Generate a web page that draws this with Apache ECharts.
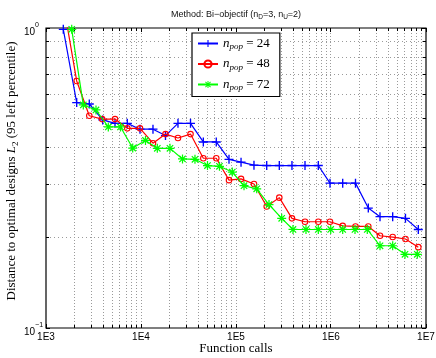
<!DOCTYPE html>
<html><head><meta charset="utf-8">
<script src="https://cdn.jsdelivr.net/npm/echarts@6/dist/echarts.min.js"></script>
<style>html,body{margin:0;padding:0;background:#fff}#c{width:436px;height:358px}</style>
</head><body><div id="c"></div>
<script>
// ---------------- data ----------------
const npopValues = [24, 48, 72];

const callsPop24 = [1521, 2104, 2856, 3953, 5326, 7174, 9760, 13370, 18100, 24500, 33200, 45300, 62000, 84400, 113000, 154600, 210500, 285700, 388300, 532600, 735000, 975800, 1328000, 1811000, 2470000, 3280000, 4460000, 6080000, 8300000];
const distPop24  = [0.99, 0.564, 0.558, 0.494, 0.481, 0.481, 0.460, 0.460, 0.438, 0.481, 0.481, 0.417, 0.417, 0.365, 0.357, 0.349, 0.348, 0.348, 0.348, 0.348, 0.348, 0.304, 0.304, 0.304, 0.251, 0.235, 0.235, 0.232, 0.213];

const callsPop48 = [1521, 2104, 2856, 3900, 5326, 7174, 9760, 13370, 18100, 24500, 33200, 45300, 62000, 84400, 113000, 154600, 210500, 285700, 388300, 532600, 735000, 975800, 1328000, 1811000, 2470000, 3280000, 4460000, 6080000, 8300000];
const distPop48  = [1.21, 0.666, 0.510, 0.497, 0.497, 0.463, 0.463, 0.413, 0.443, 0.430, 0.443, 0.368, 0.368, 0.311, 0.314, 0.302, 0.254, 0.272, 0.232, 0.226, 0.226, 0.226, 0.219, 0.218, 0.218, 0.203, 0.201, 0.198, 0.186];

const callsPop72 = [1865, 2470, 3360, 4527, 6085, 8180, 11150, 14850, 20190, 27350, 37000, 50100, 67000, 91400, 121400, 165200, 222500, 302700, 398000, 545500, 735000, 993000, 1328000, 1790000, 2410000, 3280000, 4460000, 6010000, 8100000];
const distPop72  = [0.99, 0.554, 0.533, 0.468, 0.468, 0.398, 0.422, 0.397, 0.397, 0.366, 0.365, 0.348, 0.346, 0.331, 0.298, 0.291, 0.258, 0.232, 0.213, 0.213, 0.213, 0.213, 0.213, 0.213, 0.213, 0.188, 0.188, 0.176, 0.176];

const xDecades = [1e3, 1e4, 1e5, 1e6, 1e7];
const xTickLabels = ['1E3', '1E4', '1E5', '1E6', '1E7'];
const yDecades = [0.1, 1];
const yTickExponents = ['\u22121', '0'];
const yGridValues = [0.1, 0.2, 0.3, 0.4, 0.5, 0.6, 0.7, 0.8, 0.9, 1];
const minorMultipliers = [1, 2, 3, 4, 5, 6, 7, 8, 9];

// ---------------- chart ----------------
const X_MIN = 1e3, X_MAX = 1e7, Y_MIN = 0.1, Y_MAX = 1;
const xGridValues = [];
xDecades.slice(0, -1).forEach(d => minorMultipliers.forEach(m => xGridValues.push(d * m)));
xGridValues.push(X_MAX);

const plusPath = 'path://M-1.2,-8L1.2,-8L1.2,-1.2L8,-1.2L8,1.2L1.2,1.2L1.2,8L-1.2,8L-1.2,1.2L-8,1.2L-8,-1.2L-1.2,-1.2Z';
const starPath = 'path://M-1.1,-8L1.1,-8L1.1,8L-1.1,8Z M-8,-1.1L8,-1.1L8,1.1L-8,1.1Z ' +
  'M4.88,6.44L-6.44,-4.88L-4.88,-6.44L6.44,4.88Z M-4.88,6.44L-6.44,4.88L4.88,-6.44L6.44,-4.88Z';

const serif = 'Liberation Serif';
const sans = 'Liberation Sans';
const gridColor = '#9a9a9a';
const isMajor = v => xDecades.some(d => Math.abs(v / d - 1) < 1e-9);
const snap = p => Math.round(p - 0.5) + 0.5;

function xGridRender(params, api) {
  const v = api.value(0);
  const b = api.coord([v, Y_MIN]), t = api.coord([v, Y_MAX]);
  const x = snap(b[0]);
  const L = isMajor(v) ? 4 : 3;
  const ch = [];
  if (v > X_MIN * 1.0001 && v < X_MAX * 0.9999) {
    ch.push({type: 'line', shape: {x1: x, y1: b[1], x2: x, y2: t[1]}, style: {stroke: gridColor, lineWidth: 1, lineDash: [1, 2]}});
  }
  ch.push({type: 'line', shape: {x1: x, y1: b[1], x2: x, y2: b[1] - L}, style: {stroke: '#000', lineWidth: 1}});
  ch.push({type: 'line', shape: {x1: x, y1: t[1], x2: x, y2: t[1] + L}, style: {stroke: '#000', lineWidth: 1}});
  return {type: 'group', children: ch};
}
function yGridRender(params, api) {
  const v = api.value(1);
  const l = api.coord([X_MIN, v]), r = api.coord([X_MAX, v]);
  const y = snap(l[1]);
  const major = yDecades.some(d => Math.abs(v / d - 1) < 1e-9);
  const L = major ? 4 : 3;
  const ch = [];
  if (!major) {
    ch.push({type: 'line', shape: {x1: l[0], y1: y, x2: r[0], y2: y}, style: {stroke: gridColor, lineWidth: 1, lineDash: [1, 3]}});
  }
  ch.push({type: 'line', shape: {x1: l[0], y1: y, x2: l[0] + L, y2: y}, style: {stroke: '#000', lineWidth: 1}});
  ch.push({type: 'line', shape: {x1: r[0], y1: y, x2: r[0] - L, y2: y}, style: {stroke: '#000', lineWidth: 1}});
  return {type: 'group', children: ch};
}

const pairs = (xs, ys) => xs.map((x, i) => [x, ys[i]]);
const names = npopValues.map(n => 'n_pop = ' + n);

const chart = echarts.init(document.getElementById('c'), null, {renderer: 'canvas'});
chart.setOption({
  animation: false,
  backgroundColor: '#fff',
  grid: {left: 46, right: 10, top: 28, bottom: 30, containLabel: false, outerBoundsMode: 'none',
    show: true, borderColor: '#000', borderWidth: 1.2, backgroundColor: 'transparent'},
  xAxis: [{
    type: 'log', logBase: 10, min: X_MIN, max: X_MAX, splitNumber: 4,
    axisLine: {show: false}, axisTick: {show: false}, splitLine: {show: false}, minorTick: {show: false},
    axisLabel: {margin: 4, fontFamily: sans, fontSize: 10, color: '#000',
      formatter: v => xTickLabels[Math.round(Math.log10(v)) - 3]},
    name: 'Function calls', nameLocation: 'middle', nameGap: 14, nameMoveOverlap: false,
    nameTextStyle: {fontFamily: serif, fontSize: 13, color: '#000'}
  }, {
    type: 'log', logBase: 10, min: X_MIN, max: X_MAX, position: 'top', splitNumber: 4,
    axisLine: {show: false}, axisTick: {show: false}, splitLine: {show: false}, axisLabel: {show: false},
    name: '{a|Method: Bi\u2212objectif (n}{s|D}{a|=3, n}{s|U}{a|=2)}', nameLocation: 'middle', nameGap: 7,
    nameTextStyle: {rich: {
      a: {fontFamily: sans, fontSize: 9, color: '#111', lineHeight: 12},
      s: {fontFamily: sans, fontSize: 6.5, color: '#111', lineHeight: 7, verticalAlign: 'bottom'}
    }}
  }],
  yAxis: {
    type: 'log', logBase: 10, min: Y_MIN, max: Y_MAX, splitNumber: 1,
    axisLine: {show: false}, axisTick: {show: false}, splitLine: {show: false}, minorTick: {show: false},
    axisLabel: {margin: 22, align: 'left', padding: [8, 0, 0, 0],
      formatter: v => '{b|10}{s|' + yTickExponents[Math.round(Math.log10(v)) + 1] + '}',
      rich: {
        b: {fontFamily: sans, fontSize: 10, color: '#000', lineHeight: 20},
        s: {fontFamily: sans, fontSize: 7, color: '#000', lineHeight: 8, verticalAlign: 'top'}
      }},
    name: '{a|Distance to optimal designs }{i|L}{s|2}{a| (95 left percentile)}',
    nameLocation: 'middle', nameGap: 26, nameRotate: 90, nameMoveOverlap: false,
    nameTextStyle: {padding: [0, 0, 0, 14], rich: {
      a: {fontFamily: serif, fontSize: 13, color: '#000', lineHeight: 16},
      i: {fontFamily: serif, fontSize: 13, fontStyle: 'italic', color: '#000', lineHeight: 16},
      s: {fontFamily: serif, fontSize: 9, color: '#000', lineHeight: 9, verticalAlign: 'bottom'}
    }}
  },
  legend: {
    data: names, orient: 'vertical', left: 192, top: 33,
    padding: [4, 10, 4, 5], itemGap: 6, itemWidth: 20, itemHeight: 9,
    backgroundColor: '#fff', borderColor: '#000', borderWidth: 1.2, selectedMode: false,
    formatter: name => '{n|n}{p|pop}{e| = ' + name.split('= ')[1] + '}',
    textStyle: {rich: {
      n: {fontFamily: serif, fontStyle: 'italic', fontSize: 13, color: '#000', lineHeight: 16},
      p: {fontFamily: serif, fontStyle: 'italic', fontSize: 9, color: '#000', lineHeight: 9, verticalAlign: 'bottom'},
      e: {fontFamily: serif, fontSize: 13, color: '#000', lineHeight: 16}
    }}
  },
  series: [
    {type: 'custom', coordinateSystem: 'cartesian2d', silent: true, z: 1,
      data: xGridValues.map(v => [v, Y_MIN]), renderItem: xGridRender},
    {type: 'custom', coordinateSystem: 'cartesian2d', silent: true, z: 1,
      data: yGridValues.map(v => [X_MIN, v]), renderItem: yGridRender},
    {name: names[0], type: 'line', data: pairs(callsPop24, distPop24), clip: true, z: 3,
      symbol: plusPath, symbolSize: 9, color: '#0000ff',
      lineStyle: {color: '#0000ff', width: 1.2}, itemStyle: {color: '#0000ff'}},
    {name: names[1], type: 'line', data: pairs(callsPop48, distPop48), clip: true, z: 4,
      symbol: 'circle', symbolSize: 5.5, color: '#ff0000',
      lineStyle: {color: '#ff0000', width: 1.2}, itemStyle: {color: 'rgba(255,255,255,0)', borderColor: '#ff0000', borderWidth: 1.1}},
    {name: names[2], type: 'line', data: pairs(callsPop72, distPop72), clip: true, z: 5,
      symbol: starPath, symbolSize: 9, color: '#00ff00',
      lineStyle: {color: '#00ff00', width: 1.2}, itemStyle: {color: '#00ff00'}}
  ]
});
</script></body></html>
